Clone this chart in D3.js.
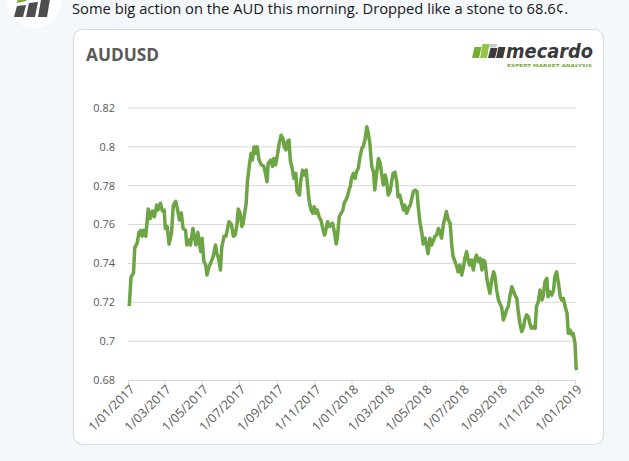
<!DOCTYPE html>
<html><head><meta charset="utf-8">
<script src="https://cdn.jsdelivr.net/npm/d3@7/dist/d3.min.js"></script>
<style>
html,body{margin:0;padding:0;background:#f5f8fa;}
svg{display:block;}
</style></head>
<body>
<svg id="c" width="629" height="461"></svg>
<script>
const tweetText = "Some big action on the AUD this morning. Dropped like a stone to 68.6¢.";
const chartTitle = "AUDUSD";
const yTicks = [0.68, 0.70, 0.72, 0.74, 0.76, 0.78, 0.80, 0.82];
const dates = [
"2017-01-03","2017-01-06","2017-01-10","2017-01-12","2017-01-16","2017-01-19","2017-01-22","2017-01-24","2017-01-27","2017-01-30",
"2017-02-03","2017-02-06","2017-02-10","2017-02-13","2017-02-17","2017-02-19","2017-02-23","2017-02-26","2017-03-01","2017-03-03",
"2017-03-06","2017-03-09","2017-03-13","2017-03-16","2017-03-20","2017-03-23","2017-03-26","2017-03-29","2017-04-01","2017-04-05",
"2017-04-07","2017-04-11","2017-04-13","2017-04-17","2017-04-19","2017-04-22","2017-04-25","2017-04-27","2017-04-30","2017-05-02",
"2017-05-05","2017-05-08","2017-05-10","2017-05-13","2017-05-17","2017-05-20","2017-05-24","2017-05-26","2017-05-29","2017-06-01",
"2017-06-03","2017-06-07","2017-06-10","2017-06-12","2017-06-15","2017-06-19","2017-06-22","2017-06-25","2017-06-28","2017-06-30",
"2017-07-03","2017-07-06","2017-07-08","2017-07-13","2017-07-15","2017-07-18","2017-07-21","2017-07-23","2017-07-26","2017-07-29",
"2017-07-31","2017-08-03","2017-08-07","2017-08-11","2017-08-14","2017-08-16","2017-08-18","2017-08-22","2017-08-25","2017-08-27",
"2017-08-30","2017-09-02","2017-09-05","2017-09-08","2017-09-11","2017-09-13","2017-09-16","2017-09-18","2017-09-21","2017-09-23",
"2017-09-26","2017-09-29","2017-10-02","2017-10-04","2017-10-08","2017-10-10","2017-10-13","2017-10-16","2017-10-19","2017-10-21",
"2017-10-24","2017-10-27","2017-10-30","2017-11-01","2017-11-04","2017-11-06","2017-11-09","2017-11-12","2017-11-15","2017-11-18",
"2017-11-20","2017-11-23","2017-11-26","2017-11-29","2017-12-01","2017-12-04","2017-12-07","2017-12-09","2017-12-12","2017-12-15",
"2017-12-18","2017-12-20","2017-12-23","2017-12-26","2017-12-28","2017-12-30","2018-01-01","2018-01-04","2018-01-07","2018-01-09",
"2018-01-12","2018-01-15","2018-01-18","2018-01-20","2018-01-23","2018-01-26","2018-01-28","2018-01-31","2018-02-03","2018-02-06",
"2018-02-08","2018-02-11","2018-02-14","2018-02-17","2018-02-19","2018-02-22","2018-02-25","2018-02-27","2018-03-02","2018-03-05",
"2018-03-08","2018-03-10","2018-03-13","2018-03-16","2018-03-18","2018-03-21","2018-03-24","2018-03-27","2018-03-29","2018-04-01",
"2018-04-04","2018-04-07","2018-04-09","2018-04-12","2018-04-15","2018-04-18","2018-04-20","2018-04-23","2018-04-26","2018-04-28",
"2018-05-01","2018-05-04","2018-05-06","2018-05-09","2018-05-12","2018-05-15","2018-05-17","2018-05-20","2018-05-23","2018-05-26",
"2018-05-28","2018-05-31","2018-06-03","2018-06-05","2018-06-08","2018-06-11","2018-06-14","2018-06-16","2018-06-19","2018-06-22",
"2018-06-24","2018-06-27","2018-06-30","2018-07-03","2018-07-05","2018-07-08","2018-07-11","2018-07-13","2018-07-16","2018-07-19",
"2018-07-22","2018-07-24","2018-07-27","2018-07-30","2018-08-02","2018-08-04","2018-08-07","2018-08-10","2018-08-12","2018-08-15",
"2018-08-18","2018-08-21","2018-08-23","2018-08-26","2018-08-29","2018-08-31","2018-09-03","2018-09-06","2018-09-09","2018-09-11",
"2018-09-14","2018-09-17","2018-09-20","2018-09-22","2018-09-25","2018-09-28","2018-09-30","2018-10-03","2018-10-06","2018-10-09",
"2018-10-11","2018-10-14","2018-10-17","2018-10-19","2018-10-22","2018-10-25","2018-10-28","2018-10-30","2018-11-02","2018-11-05",
"2018-11-08","2018-11-10","2018-11-13","2018-11-16","2018-11-18","2018-11-21","2018-11-24","2018-11-27","2018-11-29","2018-12-02",
"2018-12-05","2018-12-08","2018-12-10","2018-12-13","2018-12-16","2018-12-19","2018-12-21","2018-12-24","2018-12-27","2018-12-29",
"2019-01-01","2019-01-03"
];
const values = [
0.718,0.733,0.735,0.748,0.7505,0.756,0.757,0.754,0.757,0.754,
0.768,0.763,0.767,0.764,0.770,0.7675,0.771,0.767,0.7675,0.758,
0.759,0.750,0.7555,0.770,0.772,0.7675,0.7624,0.766,0.758,0.757,
0.7495,0.752,0.7495,0.758,0.754,0.7495,0.756,0.752,0.746,0.753,
0.741,0.739,0.734,0.738,0.741,0.7435,0.7495,0.745,0.7426,0.7366,
0.748,0.754,0.754,0.757,0.7615,0.760,0.754,0.7546,0.760,0.768,
0.766,0.759,0.7607,0.771,0.782,0.790,0.7967,0.7932,0.800,0.7967,
0.800,0.7932,0.7907,0.790,0.7855,0.782,0.7915,0.7932,0.790,0.794,
0.7907,0.7958,0.8018,0.806,0.8044,0.800,0.7984,0.8027,0.8035,0.7932,
0.789,0.7838,0.7864,0.777,0.7752,0.782,0.788,0.7855,0.788,0.7812,
0.7718,0.7675,0.7658,0.7692,0.7658,0.7675,0.764,0.7624,0.758,0.7546,
0.757,0.7615,0.759,0.760,0.7607,0.7563,0.750,0.7538,0.764,0.7658,
0.7675,0.771,0.7727,0.7752,0.778,0.7795,0.7838,0.7864,0.7838,0.787,
0.789,0.795,0.7993,0.800,0.8035,0.8104,0.8078,0.8018,0.790,0.787,
0.7778,0.7864,0.794,0.7915,0.7864,0.7804,0.7855,0.783,0.7752,0.777,
0.783,0.7864,0.787,0.782,0.7743,0.7752,0.771,0.7675,0.770,0.7658,
0.7684,0.770,0.7727,0.777,0.7778,0.777,0.7692,0.7607,0.7555,0.750,
0.753,0.7486,0.745,0.753,0.7495,0.752,0.7538,0.7546,0.758,0.7555,
0.753,0.760,0.764,0.7667,0.7624,0.7607,0.7486,0.7435,0.741,0.7383,
0.7357,0.7392,0.734,0.7383,0.7426,0.746,0.741,0.7392,0.7418,0.7366,
0.7426,0.7443,0.741,0.7426,0.7366,0.7418,0.741,0.7323,0.7289,0.7246,
0.7315,0.7357,0.734,0.7263,0.7212,0.7195,0.7177,0.7109,0.7135,0.716,
0.7177,0.7237,0.728,0.7263,0.7237,0.722,0.716,0.7092,0.7049,0.7074,
0.7109,0.7135,0.7126,0.7092,0.7066,0.7074,0.7066,0.7177,0.7203,0.7263,
0.7212,0.7229,0.7306,0.7323,0.7229,0.7254,0.7237,0.7263,0.7332,0.7357,
0.7298,0.7229,0.7212,0.722,0.7177,0.7143,0.704,0.7057,0.7032,0.704,
0.699,0.6851
];

const parse = d3.timeParse("%Y-%m-%d");
const data = dates.map((d, i) => ({ date: parse(d), value: values[i] }));

const svg = d3.select("#c");
const font = "'Segoe UI','Open Sans','Noto Sans',sans-serif";

// avatar
const av = svg.append("g");
av.append("circle").attr("cx", 34).attr("cy", 1).attr("r", 27).attr("fill", "#ffffff");
const avBars = [
  { x: 14, top: 6, col: "#4d4d4d" }, { x: 26, top: 3, col: "#4d4d4d" }, { x: 38, top: 0, col: "#4d4d4d" }
];
avBars.forEach(b => {
  av.append("path").attr("fill", b.col)
    .attr("d", `M${b.x},17 L${b.x + 3},${b.top} L${b.x + 12},${b.top - 1} L${b.x + 9},17 Z`);
});
av.append("path").attr("fill", "#7aa83a").attr("d", "M17,3 L18,-2 L27,-3 L26,1 Z");

// tweet text
svg.append("text").attr("x", 72).attr("y", 14).attr("font-family", font)
  .attr("font-size", 14.5).attr("fill", "#14171a")
  .attr("textLength", 496).attr("lengthAdjust", "spacingAndGlyphs").text(tweetText);

// card
svg.append("rect").attr("x", 73.5).attr("y", 29.5).attr("width", 530).attr("height", 415)
  .attr("rx", 9).attr("fill", "#ffffff").attr("stroke", "#d8dde2").attr("stroke-width", 1.2);

// title
svg.append("text").attr("x", 86).attr("y", 61).attr("font-family", font)
  .attr("font-size", 18).attr("font-weight", "bold").attr("fill", "#595959")
  .attr("textLength", 73).attr("lengthAdjust", "spacingAndGlyphs").text(chartTitle);

// logo
const lg = svg.append("g");
const lb = [
  { x: 472, top: 47, col: "#76ad38" }, { x: 480, top: 44, col: "#92c447" },
  { x: 488, top: 48, col: "#3b3b3b" }, { x: 496, top: 47, col: "#3b3b3b" }
];
lb.forEach(b => {
  lg.append("path").attr("fill", b.col)
    .attr("d", `M${b.x},58 L${b.x + 2.5},${b.top} L${b.x + 9.5},${b.top} L${b.x + 7},58 Z`);
});
lg.append("path").attr("fill", "#c8c8c8").attr("d", "M489,47.5 L490,44 L497,44 L496,47.5 Z");
lg.append("text").attr("x", 506).attr("y", 58).attr("font-family", "'DejaVu Sans',sans-serif")
  .attr("font-size", 19).attr("font-weight", "bold").attr("font-style", "italic")
  .attr("fill", "#3a3a3a").attr("textLength", 87).attr("lengthAdjust", "spacingAndGlyphs").text("mecardo");
lg.append("text").attr("x", 507).attr("y", 66.5).attr("font-family", "'DejaVu Sans',sans-serif")
  .attr("font-size", 4).attr("font-weight", "bold").attr("fill", "#7aa83a")
  .attr("textLength", 85).attr("lengthAdjust", "spacingAndGlyphs").text("EXPERT MARKET ANALYSIS");

// scales
const x = d3.scaleTime().domain([parse("2017-01-01"), parse("2019-01-01")]).range([128, 575]);
const y = d3.scaleLinear().domain([0.68, 0.82]).range([380, 108]);

// gridlines
svg.append("g").selectAll("line").data(yTicks.filter(v => v > 0.68)).join("line")
  .attr("x1", 128).attr("x2", 576).attr("y1", d => y(d)).attr("y2", d => y(d))
  .attr("stroke", "#d9d9d9").attr("stroke-width", 1);

// y labels
svg.append("g").selectAll("text").data(yTicks).join("text")
  .attr("x", 115).attr("y", d => y(d)).attr("dy", "0.35em").attr("text-anchor", "end")
  .attr("font-family", font).attr("font-size", 11).attr("fill", "#595959")
  .text(d => String(+d.toFixed(2)));

// x axis
const fmt = d3.timeFormat("%-d/%m/%Y");
const xAxis = d3.axisBottom(x).ticks(d3.timeMonth.every(2)).tickSize(4).tickSizeOuter(0).tickFormat(fmt);
const gx = svg.append("g").attr("transform", `translate(0,${y(0.68)})`).call(xAxis);
gx.select(".domain").attr("stroke", "#d9d9d9").attr("d", "M128,0.5H576");
gx.selectAll(".tick line").attr("stroke", "#d9d9d9");
gx.selectAll(".tick text").attr("font-family", font).attr("font-size", 12.5).attr("fill", "#595959")
  .attr("text-anchor", "end").attr("transform", "translate(4,7) rotate(-45)").attr("dy", "0.35em").attr("y", 0).attr("x", 0);

// line
const line = d3.line().x(d => x(d.date)).y(d => y(d.value));
svg.append("path").datum(data).attr("d", line).attr("fill", "none")
  .attr("stroke", "#6ea544").attr("stroke-width", 3.5).attr("stroke-linejoin", "round");
</script>
</body></html>
